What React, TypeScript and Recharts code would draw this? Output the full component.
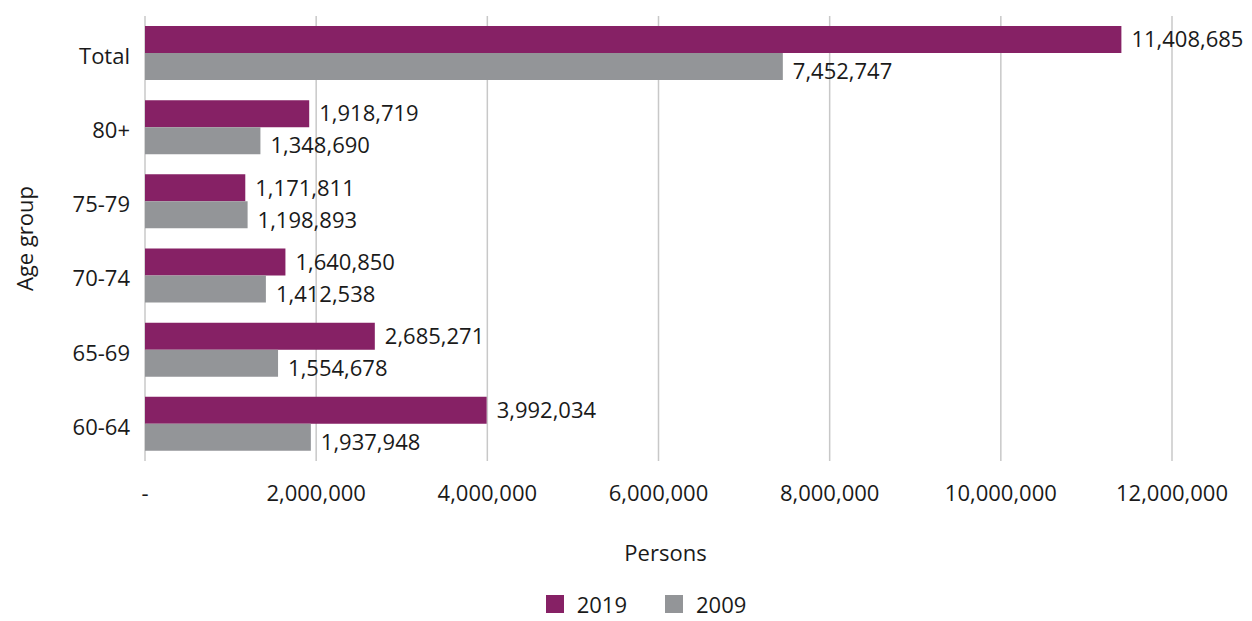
import { BarChart, Bar, XAxis, YAxis, CartesianGrid, Legend, LabelList } from 'recharts';

const ageGroups = ['Total', '80+', '75-79', '70-74', '65-69', '60-64'];
const persons2019 = [11408685, 1918719, 1171811, 1640850, 2685271, 3992034];
const persons2009 = [7452747, 1348690, 1198893, 1412538, 1554678, 1937948];
const xTicks = [0, 2000000, 4000000, 6000000, 8000000, 10000000, 12000000];

const data = ageGroups.map((g, i) => ({ group: g, y2019: persons2019[i], y2009: persons2009[i] }));

const FONT = '"Open Sans", sans-serif';
const PURPLE = '#862165';
const GRAY = '#939598';
const TEXT = '#1a1a1a';

const fmt = (v: number) => (v === 0 ? '-' : v.toLocaleString('en-US'));

const legendItems = [
    { name: '2019', color: PURPLE },
    { name: '2009', color: GRAY },
];

function LegendContent() {
    return (
        <div style={{ display: 'flex', justifyContent: 'center', gap: 38, fontFamily: FONT, fontSize: 22, lineHeight: '22px', color: TEXT }}>
            {legendItems.map((item) => (
                <div key={item.name} style={{ display: 'flex', alignItems: 'center', gap: 13 }}>
                    <div style={{ width: 18, height: 18, backgroundColor: item.color }}></div>
                    <span>{item.name}</span>
                </div>
            ))}
        </div>
    );
}

export default function App() {
    return (
        <div style={{ position: 'absolute', top: 0, left: 0, background: '#fff' }}>
            <BarChart
                width={1252}
                height={621}
                data={data}
                layout="vertical"
                margin={{ top: 16, right: 80, bottom: 50, left: 0 }}
                barGap={0}
                style={{ fontFamily: FONT }}
            >
                <CartesianGrid horizontal={false} stroke="#c8c8c8" strokeWidth={1.5} />
                <XAxis
                    type="number"
                    domain={[0, 12000000]}
                    ticks={xTicks}
                    tickFormatter={fmt}
                    axisLine={false}
                    tickLine={false}
                    tickSize={0}
                    tickMargin={24}
                    height={110}
                    tick={{ fill: TEXT, fontSize: 22 }}
                    label={{ value: 'Persons', position: 'insideBottom', offset: 10, fill: TEXT, fontSize: 22, dx: 7 }}
                />
                <YAxis
                    type="category"
                    dataKey="group"
                    width={145}
                    axisLine={false}
                    tickLine={false}
                    tickSize={0}
                    tickMargin={15}
                    tick={{ fill: TEXT, fontSize: 22, dy: 3 }}
                    label={{ value: 'Age group', angle: -90, position: 'insideLeft', offset: 25, fill: TEXT, fontSize: 22, style: { textAnchor: 'middle' } }}
                />
                <Legend verticalAlign="middle" align="center" content={<LegendContent />} wrapperStyle={{ top: 593, left: 20, width: 1252 }} />
                <Bar dataKey="y2019" name="2019" fill={PURPLE} barSize={27} isAnimationActive={false}>
                    <LabelList dataKey="y2019" position="right" offset={10} formatter={fmt} fill={TEXT} fontSize={22} />
                </Bar>
                <Bar dataKey="y2009" name="2009" fill={GRAY} barSize={27} isAnimationActive={false}>
                    <LabelList dataKey="y2009" position="right" offset={10} formatter={fmt} fill={TEXT} fontSize={22} dy={5} />
                </Bar>
            </BarChart>
        </div>
    );
}
